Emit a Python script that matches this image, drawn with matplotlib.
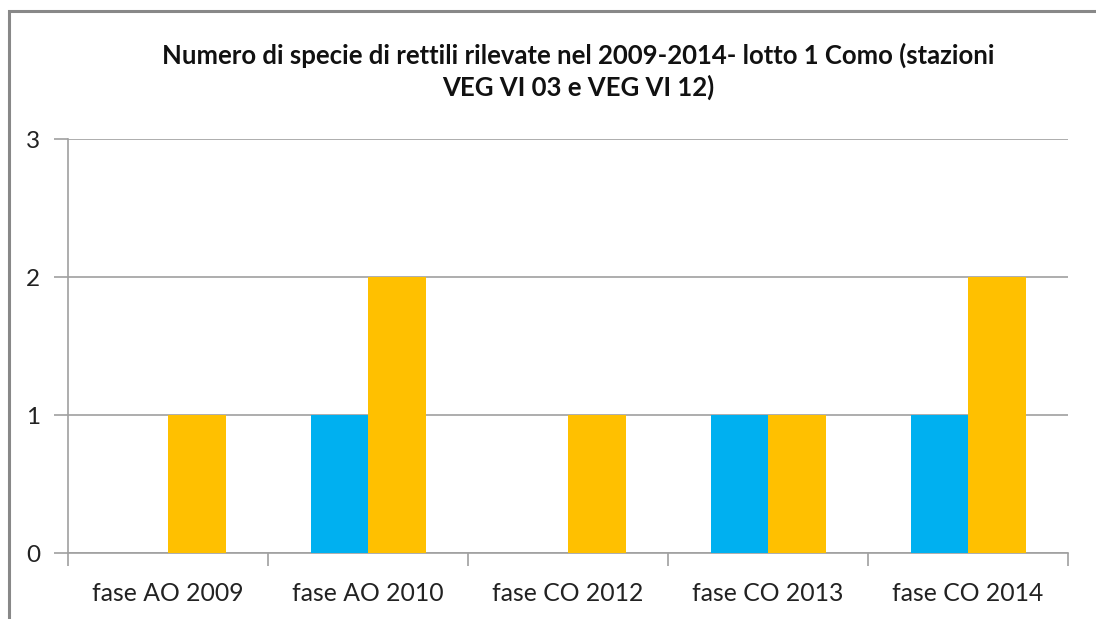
import matplotlib
matplotlib.use("Agg")
import matplotlib.pyplot as plt
from matplotlib.patches import Rectangle
import numpy as np

categories = ["fase AO 2009", "fase AO 2010", "fase CO 2012", "fase CO 2013", "fase CO 2014"]
serie_blu = [0, 1, 0, 1, 1]
serie_arancio = [1, 2, 1, 1, 2]
yticks = [0, 1, 2, 3]
title = "Numero di specie di rettili rilevate nel 2009-2014- lotto 1 Como (stazioni\nVEG VI 03 e VEG VI 12)"

plt.rcParams['font.family'] = ['Lato', 'DejaVu Sans']

W, H = 1096, 619
fig = plt.figure(figsize=(W / 100, H / 100), dpi=100)
ax = fig.add_axes([68 / W, 1 - 553 / H, 1000 / W, (553 - 139) / H])

x = np.arange(len(categories))
bw = 0.2875
ax.bar(x - bw / 2, serie_blu, width=bw, color="#00B0F0", zorder=3)
ax.bar(x + bw / 2, serie_arancio, width=bw, color="#FFC000", zorder=3)

ax.set_xlim(-0.5, len(categories) - 0.5)
ax.set_ylim(0, 3)
ax.set_yticks(yticks)
ax.set_yticklabels([str(v) for v in yticks], fontsize=17.5, color="#222222")
ax.yaxis.grid(True, color="#A0A0A0", linewidth=1.2, zorder=0)
ax.set_axisbelow(True)
ax.tick_params(axis="y", length=10, width=1.2, color="#A0A0A0", pad=10)

ax.set_xticks(x)
ax.set_xticklabels(categories, fontsize=17.8, color="#222222")
ax.set_xticks(np.arange(-0.5, len(categories)), minor=True)
ax.tick_params(axis="x", which="major", length=0, pad=21)
ax.tick_params(axis="x", which="minor", length=9, width=1.2, color="#A0A0A0")

for s in ["top", "right"]:
    ax.spines[s].set_visible(False)
for s in ["left", "bottom"]:
    ax.spines[s].set_color("#A0A0A0")
    ax.spines[s].set_linewidth(1.2)

fig.text(578 / W, 1 - 71 / H, title, ha="center", va="center", fontsize=18.5,
         fontweight="bold", linespacing=1.3, color="#111111")

border = Rectangle((9 / W, -0.1), 1.2, 1 - 11 / H + 0.1, transform=fig.transFigure,
                   fill=False, edgecolor="#888888", linewidth=2.2)
fig.patches.append(border)

fig.savefig("out.png", dpi=100)
